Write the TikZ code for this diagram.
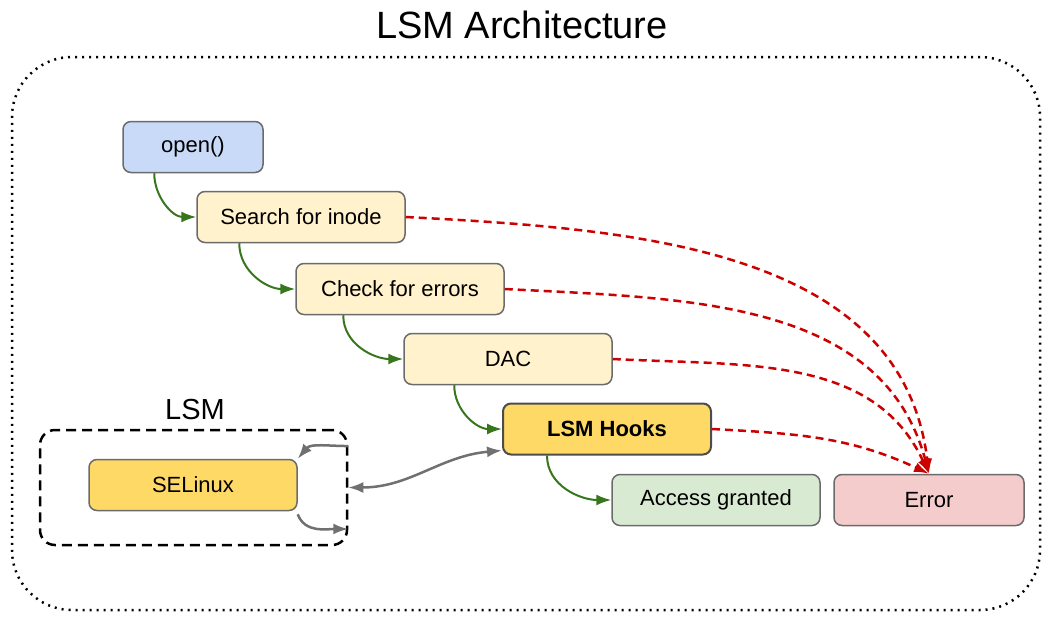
\documentclass[tikz,border=0pt]{standalone}
\usepackage{fontspec}
\setmainfont{Liberation Sans}
\usetikzlibrary{arrows.meta}
\definecolor{openblue}{HTML}{C9DAF8}
\definecolor{steppale}{HTML}{FFF2CC}
\definecolor{hookyellow}{HTML}{FFD966}
\definecolor{grantgreen}{HTML}{D9EAD3}
\definecolor{errorpink}{HTML}{F4CCCC}
\definecolor{boxgray}{HTML}{6B6B6B}
\definecolor{flowgreen}{HTML}{38761D}
\definecolor{failred}{HTML}{CC0000}
\definecolor{hookgray}{HTML}{707070}
\tikzset{
  every picture/.style={
    line width=1.5pt
  },
  box/.style={draw=boxgray, rounded corners=8pt, minimum width=208pt,
    minimum height=51pt, font=\fontsize{22}{26}\selectfont},
  flow/.style={draw=flowgreen, line width=2pt,
    -{Latex[length=15pt,width=11pt]}},
  fail/.style={draw=failred, line width=2.5pt, dash pattern=on 8pt off 5pt,
    -{Latex[length=15pt,width=10pt]}},
  hook/.style={draw=hookgray, line width=2.5pt,
    -{Latex[length=15pt,width=11pt]}}
}

\begin{document}
\begin{tikzpicture}[x=1pt, y=-1pt]
  \useasboundingbox (0,0) rectangle (1044,616);
  % outer frame and title
  \node[draw, line width=2.5pt, dash pattern=on 2pt off 5pt, rounded corners=60pt,
    minimum width=1028pt, minimum height=553pt] (arch) at (526,333.5) {};
  \node[font=\fontsize{38}{44}\selectfont] (title) at (522,25) {LSM Architecture};

  % kernel path
  \node[box, fill=openblue, minimum width=140pt] (open) at (193,147) {open()};
  \node[box, fill=steppale] (search) at (301,217) {Search for inode};
  \node[box, fill=steppale] (check) at (400,289) {Check for errors};
  \node[box, fill=steppale] (dac) at (508,359) {DAC};
  \node[box, fill=hookyellow, draw=black!70, line width=2pt,
    font=\fontsize{22}{26}\selectfont\bfseries] (hooks) at (607,429) {LSM Hooks};
  \node[box, fill=grantgreen] (granted) at (716,500) {Access granted};
  \node[box, fill=errorpink, minimum width=190pt] (error) at (929,500) {Error};

  % security module
  \node[draw, line width=2.5pt, dash pattern=on 10pt off 6pt, rounded corners=15pt,
    minimum width=307pt, minimum height=115pt] (lsm) at (193.5,487.5) {};
  \node[font=\fontsize{29}{34}\selectfont] (lsmlabel) at (195,410) {LSM};
  \node[box, fill=hookyellow] (selinux) at (193,485) {SELinux};

  \draw[flow] ([xshift=32pt]open.south west) to[out=-90, in=180] (search.west);
  \draw[flow] ([xshift=43pt]search.south west) to[out=-90, in=180] (check.west);
  \draw[flow] ([xshift=48pt]check.south west) to[out=-90, in=180] (dac.west);
  \draw[flow] ([xshift=51pt]dac.south west) to[out=-90, in=180] (hooks.west);
  \draw[flow] ([xshift=45pt]hooks.south west) to[out=-90, in=180] (granted.west);

  \draw[fail] (search.east) to[out=-3, in=97] (error.north);
  \draw[fail] (check.east) to[out=-3, in=105] (error.north);
  \draw[fail] (dac.east) to[out=-3, in=115] (error.north);
  \draw[fail] (hooks.east) to[out=-3, in=155] (error.north);

  \draw[hook, {Latex[length=15pt,width=11pt]}-{Latex[length=15pt,width=11pt]}]
    (lsm.east) to[out=0, in=185] ([yshift=5pt]hooks.south west);
  \draw[hook] (lsm.15) to[out=180, in=50] (selinux.north east);
  \draw[hook] ([yshift=-3pt]selinux.south east) to[out=-70, in=180] (lsm.-15);
\end{tikzpicture}
\end{document}
